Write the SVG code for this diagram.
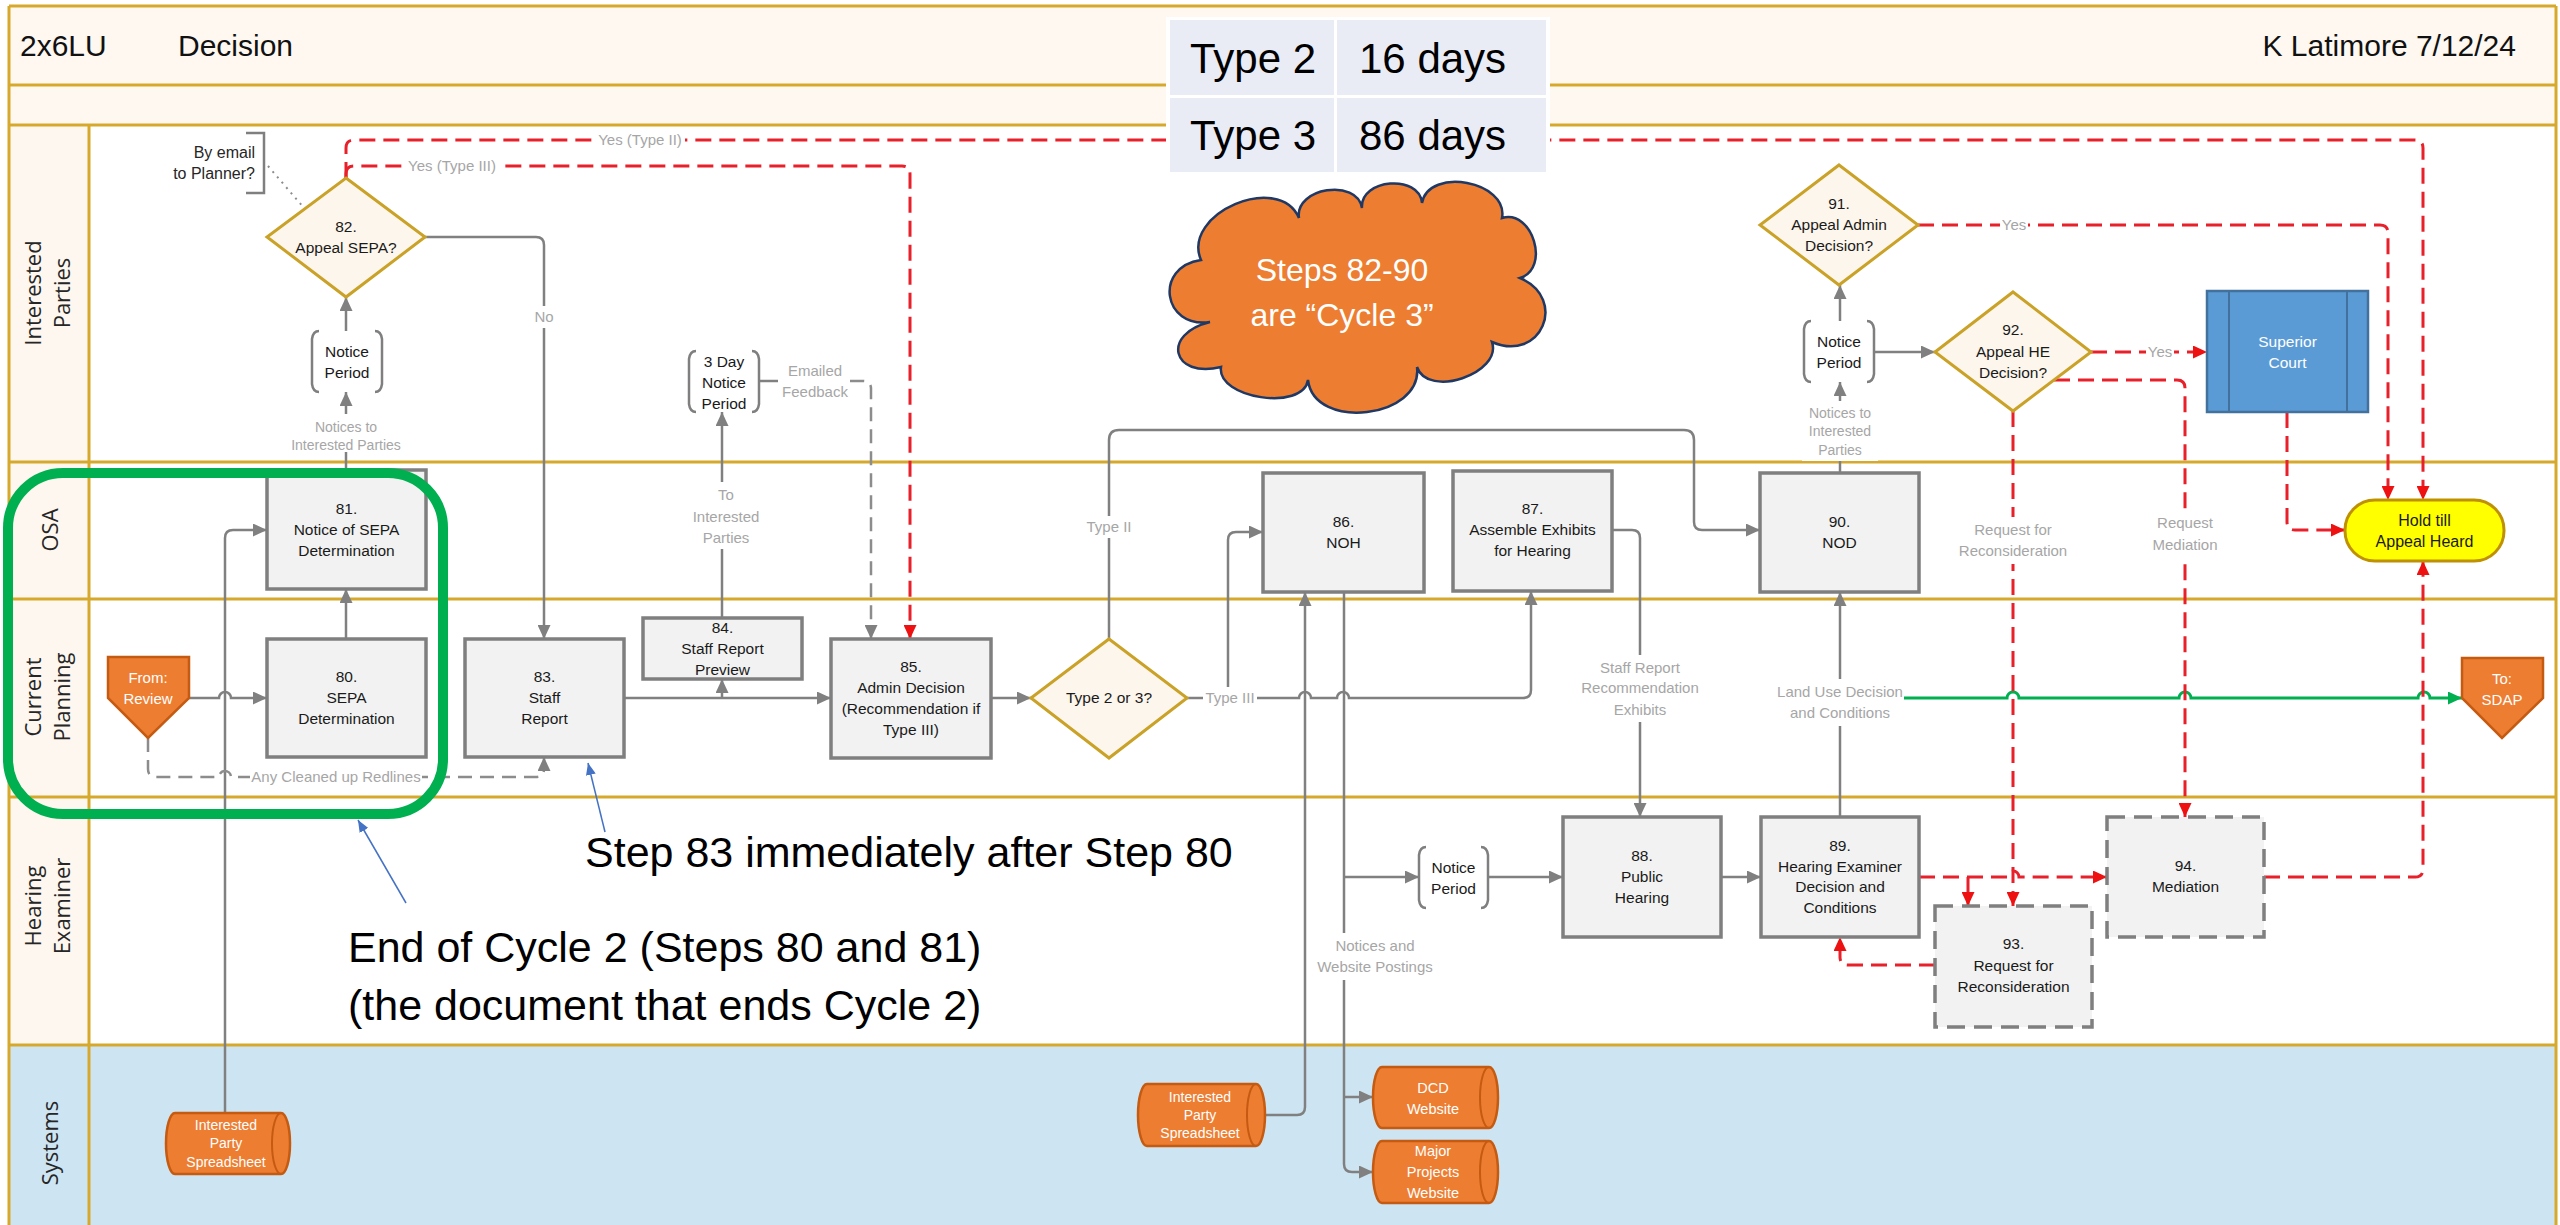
<svg xmlns="http://www.w3.org/2000/svg" width="2560" height="1225" viewBox="0 0 2560 1225">
<style>
.lane{fill:none;stroke:#d6a92c;stroke-width:3}
.ll{font-family:'Open Sans','Liberation Sans',sans-serif;font-size:22px;fill:#262626;text-anchor:middle}
.t{font-family:'Liberation Sans',Arial,sans-serif;font-size:15.5px;fill:#1a1a1a;text-anchor:middle}
.tw{font-family:'Liberation Sans',Arial,sans-serif;font-size:15px;fill:#ffffff;text-anchor:middle}
.ts{font-family:'Liberation Sans',Arial,sans-serif;font-size:14px;fill:#ffffff;text-anchor:middle}
.lb{font-family:'Liberation Sans',Arial,sans-serif;font-size:15px;fill:#a6a6a6;text-anchor:middle}
.lbs{font-family:'Liberation Sans',Arial,sans-serif;font-size:14px;fill:#a6a6a6;text-anchor:middle}
.big{font-family:'Liberation Sans',Arial,sans-serif;font-size:43px;fill:#000000}
.ttl{font-family:'Liberation Sans',Arial,sans-serif;font-size:30px;fill:#111111}
.box{fill:#f2f2f2;stroke:#7f7f7f;stroke-width:3.5}
.dbox{fill:#f2f2f2;stroke:#7f7f7f;stroke-width:3.5;stroke-dasharray:18 9}
.dia{fill:#fdf6ec;stroke:#c9a227;stroke-width:3}
.br{fill:none;stroke:#7f7f7f;stroke-width:2.5}
.org{fill:#ed7d31;stroke:#c55a11;stroke-width:2.5}
.cg{fill:none;stroke:#808080;stroke-width:2.5;marker-end:url(#ag)}
.cgn{fill:none;stroke:#808080;stroke-width:2.5}
.cgd{fill:none;stroke:#8c8c8c;stroke-width:2.5;stroke-dasharray:14 8;marker-end:url(#ag)}
.cr{fill:none;stroke:#e8202a;stroke-width:3;stroke-dasharray:16 8;marker-end:url(#ar)}
.cgr{fill:none;stroke:#00b050;stroke-width:3;marker-end:url(#agr)}
.cb{fill:none;stroke:#4472c4;stroke-width:1.5;marker-end:url(#ab)}
.wb{fill:#ffffff}
.cell{fill:#e9ecf5}
.tbl{font-family:'Liberation Sans',Arial,sans-serif;font-size:42px;fill:#000000}
</style>
<defs>
<marker id="ag" viewBox="0 0 10 10" refX="10" refY="5" markerWidth="14" markerHeight="13" markerUnits="userSpaceOnUse" orient="auto" preserveAspectRatio="none"><path d="M0,0 L10,5 L0,10 z" fill="#808080"/></marker>
<marker id="ar" viewBox="0 0 10 10" refX="10" refY="5" markerWidth="14" markerHeight="13" markerUnits="userSpaceOnUse" orient="auto" preserveAspectRatio="none"><path d="M0,0 L10,5 L0,10 z" fill="#ee1111"/></marker>
<marker id="agr" viewBox="0 0 10 10" refX="10" refY="5" markerWidth="14" markerHeight="13" markerUnits="userSpaceOnUse" orient="auto" preserveAspectRatio="none"><path d="M0,0 L10,5 L0,10 z" fill="#00b050"/></marker>
<marker id="ab" viewBox="0 0 10 10" refX="10" refY="5" markerWidth="12" markerHeight="10" markerUnits="userSpaceOnUse" orient="auto" preserveAspectRatio="none"><path d="M0,0 L10,5 L0,10 z" fill="#4472c4"/></marker>
</defs>

<g id="lanes">
<rect x="0" y="0" width="2560" height="1225" fill="#ffffff"/>
<rect x="9" y="6" width="2547" height="119" fill="#fef8f1"/>
<rect x="9" y="125" width="80" height="920" fill="#fdf7ef"/>
<rect x="9" y="1045" width="2547" height="185" fill="#cde4f2"/>
<path class="lane" d="M9,6 H2556 M9,85 H2556 M9,125 H2556 M9,462 H2556 M9,599 H2556 M9,797 H2556 M9,1045 H2556 M9,6 V1225 M2556,6 V1225 M89,125 V1225"/>
<text class="ll" transform="translate(50,293) rotate(-90)"><tspan x="0" y="-9">Interested</tspan><tspan x="0" y="20">Parties</tspan></text>
<text class="ll" transform="translate(50,530) rotate(-90)"><tspan x="0" y="8">OSA</tspan></text>
<text class="ll" transform="translate(50,697) rotate(-90)"><tspan x="0" y="-9">Current</tspan><tspan x="0" y="20">Planning</tspan></text>
<text class="ll" transform="translate(50,906) rotate(-90)"><tspan x="0" y="-9">Hearing</tspan><tspan x="0" y="20">Examiner</tspan></text>
<text class="ll" transform="translate(50,1143) rotate(-90)"><tspan x="0" y="8">Systems</tspan></text>
<text class="ttl" x="20" y="56">2x6LU</text>
<text class="ttl" x="178" y="56">Decision</text>
<text class="ttl" x="2516" y="56" text-anchor="end">K Latimore 7/12/24</text>
</g>

<g id="connectors">
<path class="cg" d="M189,698 H219 A6,6 0 0 1 231,698 H267"/>
<path class="cg" d="M225,1113 V538 Q225,530 233,530 H267"/>
<path class="cg" d="M346,639 V589"/>
<path class="cg" d="M346,470 V392"/>
<path class="cg" d="M346,331 V297"/>
<path class="cg" d="M425,237 H536 Q544,237 544,245 V639"/>
<path class="cg" d="M624,698 H831"/>
<path class="cg" d="M722,698 V679"/>
<path class="cg" d="M722,618 V412"/>
<path class="cgn" d="M759,381 H778"/>
<path class="cgd" d="M850,381 H863 Q871,381 871,389 V639"/>
<path class="cg" d="M991,698 H1031"/>
<path class="cg" d="M1109,639 V440 Q1109,430 1119,430 H1684 Q1694,430 1694,440 V522 Q1694,530 1702,530 H1760"/>
<path class="cg" d="M1187,698 H1299 A6,6 0 0 1 1311,698 H1337 A6,6 0 0 1 1349,698 H1523 Q1531,698 1531,690 V591"/>
<path class="cg" d="M1228,698 V540 Q1228,532 1236,532 H1263"/>
<path class="cg" d="M1257,1115 H1297 Q1305,1115 1305,1107 V592"/>
<path class="cg" d="M1344,592 V1164 Q1344,1172 1352,1172 H1373"/>
<path class="cg" d="M1344,877 H1419"/>
<path class="cg" d="M1344,1097 H1373"/>
<path class="cg" d="M1488,877 H1563"/>
<path class="cg" d="M1612,530 H1632 Q1640,530 1640,538 V817"/>
<path class="cg" d="M1721,877 H1761"/>
<path class="cg" d="M1840,817 V592"/>
<path class="cg" d="M1840,473 V382"/>
<path class="cg" d="M1840,321 V285"/>
<path class="cg" d="M1874,352 H1935"/>
<path class="cgd" d="M148,738 V769 Q148,777 156,777 H219 A6,6 0 0 1 231,777 H536 Q544,777 544,769 V757"/>
<path d="M268,166 L304,208" fill="none" stroke="#8c8c8c" stroke-width="2" stroke-dasharray="2 5"/>
<path class="cgr" d="M1904,698 H2007 A6,6 0 0 1 2019,698 H2179 A6,6 0 0 1 2191,698 H2418 A6,6 0 0 1 2430,698 H2462"/>
<path class="cr" d="M346,178 V148 Q346,140 354,140 H2415 Q2423,140 2423,148 V500"/>
<path class="cr" d="M346,178 V174 Q346,166 354,166 H902 Q910,166 910,174 V639"/>
<path class="cr" d="M1918,225 H2380 Q2388,225 2388,233 V500"/>
<path class="cr" d="M2091,352 H2207"/>
<path class="cr" d="M2054,380 H2177 Q2185,380 2185,388 V817"/>
<path class="cr" d="M2013,411 V906"/>
<path class="cr" d="M2287,412 V522 Q2287,530 2295,530 H2345"/>
<path class="cr" d="M1919,877 H2007 A6,6 0 0 1 2019,877 H2107"/>
<path class="cr" d="M1968,877 V906"/>
<path class="cr" d="M1935,965 H1848 Q1840,965 1840,957 V937"/>
<path class="cr" d="M2264,877 H2415 Q2423,877 2423,869 V561"/>
</g>

<g id="labels">
<rect class="wb" x="288" y="414" width="116" height="38"/>
<text class="lbs"><tspan x="346" y="432">Notices to</tspan><tspan x="346" y="450">Interested Parties</tspan></text>
<rect class="wb" x="533" y="306" width="22" height="22"/>
<text class="lb" x="544" y="322">No</text>
<rect class="wb" x="688" y="482" width="76" height="67"/>
<text class="lb"><tspan x="726" y="500">To</tspan><tspan x="726" y="522">Interested</tspan><tspan x="726" y="543">Parties</tspan></text>
<text class="lb"><tspan x="815" y="376">Emailed</tspan><tspan x="815" y="397">Feedback</tspan></text>
<rect class="wb" x="1084" y="516" width="50" height="22"/>
<text class="lb" x="1109" y="532">Type II</text>
<rect class="wb" x="1203" y="687" width="54" height="22"/>
<text class="lb" x="1230" y="703">Type III</text>
<rect class="wb" x="1575" y="655" width="130" height="67"/>
<text class="lb"><tspan x="1640" y="673">Staff Report</tspan><tspan x="1640" y="693">Recommendation</tspan><tspan x="1640" y="715">Exhibits</tspan></text>
<rect class="wb" x="1312" y="933" width="126" height="47"/>
<text class="lb"><tspan x="1375" y="951">Notices and</tspan><tspan x="1375" y="972">Website Postings</tspan></text>
<rect class="wb" x="1774" y="679" width="130" height="47"/>
<text class="lb"><tspan x="1840" y="697">Land Use Decision</tspan><tspan x="1840" y="718">and Conditions</tspan></text>
<rect class="wb" x="1802" y="401" width="76" height="60"/>
<text class="lbs"><tspan x="1840" y="418">Notices to</tspan><tspan x="1840" y="436">Interested</tspan><tspan x="1840" y="455">Parties</tspan></text>
<rect class="wb" x="1953" y="517" width="120" height="47"/>
<text class="lb"><tspan x="2013" y="535">Request for</tspan><tspan x="2013" y="556">Reconsideration</tspan></text>
<rect class="wb" x="2147" y="510" width="76" height="48"/>
<text class="lb"><tspan x="2185" y="528">Request</tspan><tspan x="2185" y="550">Mediation</tspan></text>
<rect class="wb" x="595" y="130" width="90" height="20"/>
<text class="lb" x="640" y="145">Yes (Type II)</text>
<rect class="wb" x="406" y="156" width="92" height="20"/>
<text class="lb" x="452" y="171">Yes (Type III)</text>
<rect class="wb" x="2000" y="215" width="28" height="20"/>
<text class="lb" x="2014" y="230">Yes</text>
<rect class="wb" x="2146" y="342" width="28" height="20"/>
<text class="lb" x="2160" y="357">Yes</text>
<rect class="wb" x="250" y="767" width="172" height="20"/>
<text class="lb" x="336" y="782">Any Cleaned up Redlines</text>
</g>

<g id="n-email">
<path class="br" d="M246,133 H264 V193 H246"/>
<text font-family="'Liberation Sans',Arial,sans-serif" font-size="16" fill="#262626" text-anchor="end"><tspan x="255" y="158">By email</tspan><tspan x="255" y="179">to Planner?</tspan></text>
</g>

<g id="n-from-review">
<polygon class="org" points="108,657 189,657 189,698 148,738 108,698"/>
<text class="tw"><tspan x="148" y="683">From:</tspan><tspan x="148" y="704">Review</tspan></text>
</g>

<g id="n80">
<rect class="box" x="267" y="639" width="159" height="118"/>
<text class="t"><tspan x="346.5" y="682">80.</tspan><tspan x="346.5" y="703">SEPA</tspan><tspan x="346.5" y="724">Determination</tspan></text>
</g>
<g id="n81">
<rect class="box" x="267" y="470" width="159" height="119"/>
<text class="t"><tspan x="346.5" y="514">81.</tspan><tspan x="346.5" y="535">Notice of SEPA</tspan><tspan x="346.5" y="556">Determination</tspan></text>
</g>
<g id="np81">
<rect x="312" y="331" width="70" height="61" fill="#ffffff"/>
<path class="br" d="M319,331 Q313,331 312,339 V384 Q313,392 319,392 M375,331 Q381,331 382,339 V384 Q381,392 375,392"/>
<text class="t"><tspan x="347" y="357">Notice</tspan><tspan x="347" y="378">Period</tspan></text>
</g>
<g id="n82">
<polygon class="dia" points="346,178 425,237 346,297 267,237"/>
<text class="t"><tspan x="346" y="232">82.</tspan><tspan x="346" y="253">Appeal SEPA?</tspan></text>
</g>
<g id="n83">
<rect class="box" x="465" y="639" width="159" height="118"/>
<text class="t"><tspan x="544.5" y="682">83.</tspan><tspan x="544.5" y="703">Staff</tspan><tspan x="544.5" y="724">Report</tspan></text>
</g>
<g id="n84">
<rect class="box" x="643" y="618" width="159" height="61"/>
<text class="t"><tspan x="722.5" y="633">84.</tspan><tspan x="722.5" y="654">Staff Report</tspan><tspan x="722.5" y="675">Preview</tspan></text>
</g>
<g id="np84">
<rect x="689" y="351" width="70" height="61" fill="#ffffff"/>
<path class="br" d="M696,351 Q690,351 689,359 V404 Q690,412 696,412 M752,351 Q758,351 759,359 V404 Q758,412 752,412"/>
<text class="t"><tspan x="724" y="367">3 Day</tspan><tspan x="724" y="388">Notice</tspan><tspan x="724" y="409">Period</tspan></text>
</g>
<g id="n85">
<rect class="box" x="831" y="639" width="160" height="119"/>
<text class="t"><tspan x="911" y="672">85.</tspan><tspan x="911" y="693">Admin Decision</tspan><tspan x="911" y="714">(Recommendation if</tspan><tspan x="911" y="735">Type III)</tspan></text>
</g>
<g id="n-type">
<polygon class="dia" points="1109,639 1187,698 1109,758 1031,698"/>
<text class="t" x="1109" y="703">Type 2 or 3?</text>
</g>
<g id="n86">
<rect class="box" x="1263" y="473" width="161" height="119"/>
<text class="t"><tspan x="1343.5" y="527">86.</tspan><tspan x="1343.5" y="548">NOH</tspan></text>
</g>
<g id="n87">
<rect class="box" x="1453" y="471" width="159" height="120"/>
<text class="t"><tspan x="1532.5" y="514">87.</tspan><tspan x="1532.5" y="535">Assemble Exhibits</tspan><tspan x="1532.5" y="556">for Hearing</tspan></text>
</g>
<g id="np88">
<rect x="1419" y="847" width="69" height="61" fill="#ffffff"/>
<path class="br" d="M1426,847 Q1420,847 1419,855 V900 Q1420,908 1426,908 M1481,847 Q1487,847 1488,855 V900 Q1487,908 1481,908"/>
<text class="t"><tspan x="1453.5" y="873">Notice</tspan><tspan x="1453.5" y="894">Period</tspan></text>
</g>
<g id="n88">
<rect class="box" x="1563" y="817" width="158" height="120"/>
<text class="t"><tspan x="1642" y="861">88.</tspan><tspan x="1642" y="882">Public</tspan><tspan x="1642" y="903">Hearing</tspan></text>
</g>
<g id="n89">
<rect class="box" x="1761" y="817" width="158" height="120"/>
<text class="t"><tspan x="1840" y="851">89.</tspan><tspan x="1840" y="872">Hearing Examiner</tspan><tspan x="1840" y="892">Decision and</tspan><tspan x="1840" y="913">Conditions</tspan></text>
</g>
<g id="n90">
<rect class="box" x="1760" y="473" width="159" height="119"/>
<text class="t"><tspan x="1839.5" y="527">90.</tspan><tspan x="1839.5" y="548">NOD</tspan></text>
</g>
<g id="np90">
<rect x="1804" y="321" width="70" height="61" fill="#ffffff"/>
<path class="br" d="M1811,321 Q1805,321 1804,329 V374 Q1805,382 1811,382 M1867,321 Q1873,321 1874,329 V374 Q1873,382 1867,382"/>
<text class="t"><tspan x="1839" y="347">Notice</tspan><tspan x="1839" y="368">Period</tspan></text>
</g>
<g id="n91">
<polygon class="dia" points="1839,165 1918,225 1839,285 1760,225"/>
<text class="t"><tspan x="1839" y="209">91.</tspan><tspan x="1839" y="230">Appeal Admin</tspan><tspan x="1839" y="251">Decision?</tspan></text>
</g>
<g id="n92">
<polygon class="dia" points="2013,292 2091,352 2013,411 1935,352"/>
<text class="t"><tspan x="2013" y="335">92.</tspan><tspan x="2013" y="357">Appeal HE</tspan><tspan x="2013" y="378">Decision?</tspan></text>
</g>
<g id="n93">
<rect class="dbox" x="1935" y="906" width="157" height="121"/>
<text class="t"><tspan x="2013.5" y="949">93.</tspan><tspan x="2013.5" y="971">Request for</tspan><tspan x="2013.5" y="992">Reconsideration</tspan></text>
</g>
<g id="n94">
<rect class="dbox" x="2107" y="817" width="157" height="120"/>
<text class="t"><tspan x="2185.5" y="871">94.</tspan><tspan x="2185.5" y="892">Mediation</tspan></text>
</g>
<g id="n-court">
<rect x="2207" y="291" width="161" height="121" fill="#5b9bd5" stroke="#41719c" stroke-width="2.5"/>
<path d="M2229,291 V412 M2347,291 V412" stroke="#41719c" stroke-width="2"/>
<text class="tw" style="font-size:15.5px"><tspan x="2287.5" y="347">Superior</tspan><tspan x="2287.5" y="368">Court</tspan></text>
</g>
<g id="n-hold">
<rect x="2345" y="500" width="159" height="61" rx="30" fill="#ffff00" stroke="#bf9000" stroke-width="3"/>
<text class="t" style="font-size:16px"><tspan x="2424.5" y="526">Hold till</tspan><tspan x="2424.5" y="547">Appeal Heard</tspan></text>
</g>
<g id="n-to-sdap">
<polygon class="org" points="2462,658 2543,658 2543,698 2502,738 2462,698"/>
<text class="tw"><tspan x="2502" y="684">To:</tspan><tspan x="2502" y="705">SDAP</tspan></text>
</g>
<g id="n-ss1">
<path class="org" d="M175,1113 H281 A9,30.5 0 0 1 281,1174 H175 A9,30.5 0 0 1 175,1113 Z"/>
<path d="M281,1113 A9,30.5 0 0 0 281,1174" fill="none" stroke="#c55a11" stroke-width="2"/>
<text class="ts"><tspan x="226" y="1130">Interested</tspan><tspan x="226" y="1148">Party</tspan><tspan x="226" y="1167">Spreadsheet</tspan></text>
</g>
<g id="n-ss2">
<path class="org" d="M1147,1084 H1256 A9,31 0 0 1 1256,1146 H1147 A9,31 0 0 1 1147,1084 Z"/>
<path d="M1256,1084 A9,31 0 0 0 1256,1146" fill="none" stroke="#c55a11" stroke-width="2"/>
<text class="ts"><tspan x="1200" y="1102">Interested</tspan><tspan x="1200" y="1120">Party</tspan><tspan x="1200" y="1138">Spreadsheet</tspan></text>
</g>
<g id="n-dcd">
<path class="org" d="M1382,1067 H1489 A9,30.5 0 0 1 1489,1128 H1382 A9,30.5 0 0 1 1382,1067 Z"/>
<path d="M1489,1067 A9,30.5 0 0 0 1489,1128" fill="none" stroke="#c55a11" stroke-width="2"/>
<text class="ts" style="font-size:14.5px"><tspan x="1433" y="1093">DCD</tspan><tspan x="1433" y="1114">Website</tspan></text>
</g>
<g id="n-major">
<path class="org" d="M1382,1141 H1489 A9,31 0 0 1 1489,1203 H1382 A9,31 0 0 1 1382,1141 Z"/>
<path d="M1489,1141 A9,31 0 0 0 1489,1203" fill="none" stroke="#c55a11" stroke-width="2"/>
<text class="ts" style="font-size:14.5px"><tspan x="1433" y="1156">Major</tspan><tspan x="1433" y="1177">Projects</tspan><tspan x="1433" y="1198">Website</tspan></text>
</g>

<g id="table">
<rect x="1166" y="17" width="384" height="158" fill="#ffffff"/>
<rect class="cell" x="1170" y="20" width="164" height="75"/>
<rect class="cell" x="1337" y="20" width="209" height="75"/>
<rect class="cell" x="1170" y="98" width="164" height="74"/>
<rect class="cell" x="1337" y="98" width="209" height="74"/>
<text class="tbl" x="1190" y="73">Type 2</text>
<text class="tbl" x="1359" y="73">16 days</text>
<text class="tbl" x="1190" y="150">Type 3</text>
<text class="tbl" x="1359" y="150">86 days</text>
</g>

<g id="cloud">
<path d="M1299,218 C1294.2,187.8 1357.2,177.8 1362,208 C1359.6,178.8 1419.6,173.8 1422,203 C1428.8,166.4 1508.8,181.4 1502,218 C1532.6,208.8 1550.6,268.8 1520,278 C1568.7,299.3 1540.7,363.3 1492,342 C1502.5,373.6 1427.5,398.6 1417,367 C1423.1,418.4 1314.1,431.4 1308,380 C1303.3,411.5 1216.3,398.5 1221,367 C1171.9,379 1160.9,334 1210,322 C1162.6,328.9 1153.6,266.9 1201,260 C1181.1,213.6 1279.1,171.6 1299,218 Z" fill="#ed7d31" stroke="#1f3864" stroke-width="2.5"/>
<text font-family="'Liberation Sans',Arial,sans-serif" font-size="32" fill="#ffffff" text-anchor="middle"><tspan x="1342" y="281">Steps 82-90</tspan><tspan x="1342" y="326">are “Cycle 3”</tspan></text>
</g>

<g id="annotations">
<rect x="8" y="473" width="435" height="341" rx="55" fill="none" stroke="#00b050" stroke-width="10"/>
<path class="cb" d="M406,903 L358,820"/>
<path class="cb" d="M605,832 L588,763"/>
<text class="big" x="585" y="867">Step 83 immediately after Step 80</text>
<text class="big" x="348" y="962">End of Cycle 2 (Steps 80 and 81)</text>
<text class="big" x="348" y="1020">(the document that ends Cycle 2)</text>
</g>
</svg>
